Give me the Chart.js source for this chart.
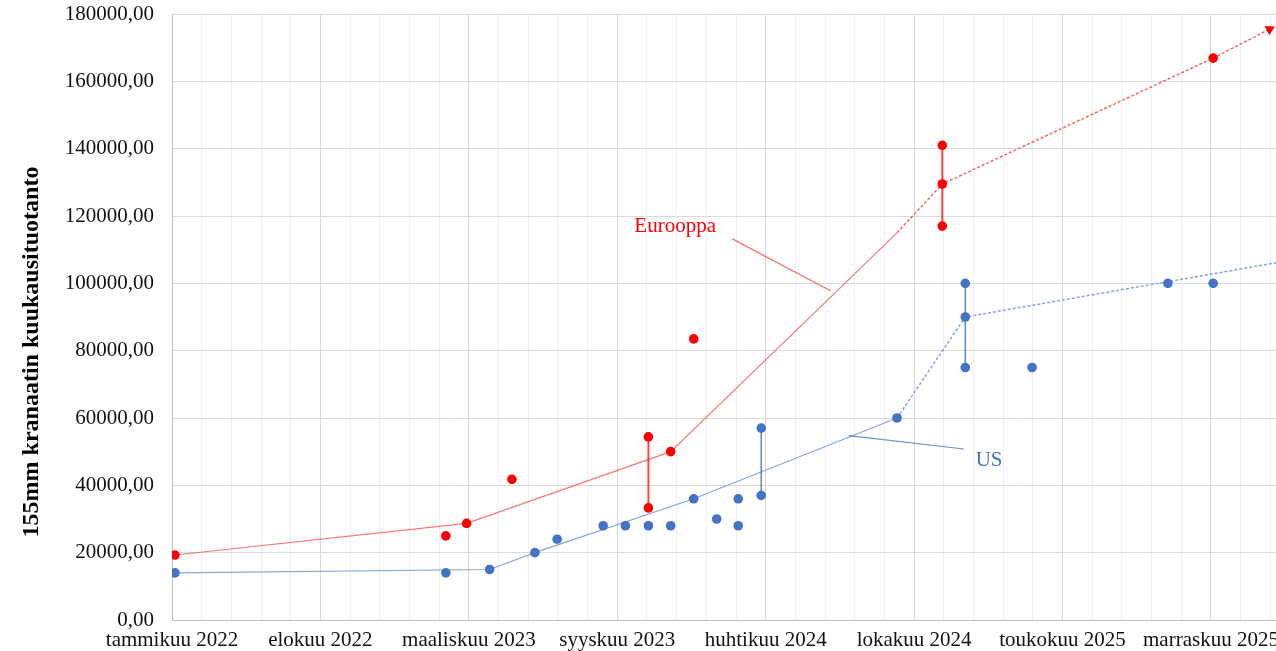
<!DOCTYPE html>
<html lang="fi">
<head>
<meta charset="utf-8">
<title>155mm kranaatin kuukausituotanto</title>
<script src="https://cdn.jsdelivr.net/npm/chart.js@4.4.1/dist/chart.umd.min.js"></script>
<style>
    html, body { margin: 0; padding: 0; background: #fff; overflow: hidden; }
    #wrap { width: 1306px; height: 651px; position: relative; }
</style>
</head>
<body>
<div id="wrap"><canvas id="chart"></canvas></div>
<script>
// x-akseli: päiviä alkupäivästä, pääjako 200 pv, apujako 40 pv
const axisStart = '2022-01-27';
const tickLabels = ['tammikuu 2022', 'elokuu 2022', 'maaliskuu 2023', 'syyskuu 2023',
    'huhtikuu 2024', 'lokakuu 2024', 'toukokuu 2025', 'marraskuu 2025'];
const yTitle = '155mm kranaatin kuukausituotanto';

// Eurooppa, yksittäiset arviot
const euDates = ['2022-01-31', '2023-01-31', '2023-02-28', '2023-04-30', '2023-10-31', '2023-10-31',
    '2023-11-30', '2023-12-31', '2024-11-30', '2024-11-30', '2024-11-30', '2025-11-30'];
const euValues = [19300, 25000, 28700, 41800, 54400, 33300,
    50000, 83500, 141000, 129500, 117000, 166900];
const euRangeDates = ['2023-10-31', '2024-11-30'];
const euRangeLow = [33300, 117000];
const euRangeHigh = [54400, 141000];
const euTrendDates = ['2022-01-31', '2023-02-28', '2023-11-30', '2024-09-30'];
const euTrendValues = [19300, 28700, 50000, 115000];
const euForecastDates = ['2024-09-30', '2024-11-30', '2025-11-30', '2026-02-14'];
const euForecastValues = [115000, 129500, 166900, 175500];

// US
const usDates = ['2022-01-31', '2023-01-31', '2023-03-31', '2023-05-31', '2023-06-30', '2023-08-31',
    '2023-09-30', '2023-10-31', '2023-11-30', '2023-12-31', '2024-01-31', '2024-02-29', '2024-02-29',
    '2024-03-31', '2024-03-31', '2024-09-30', '2024-12-31', '2024-12-31', '2024-12-31', '2025-03-31',
    '2025-09-30', '2025-11-30'];
const usValues = [14000, 14000, 15000, 20000, 24000, 28000,
    28000, 28000, 28000, 36000, 30000, 36000, 28000,
    57000, 37000, 60000, 100000, 90000, 75000, 75000,
    100000, 100000];
const usRangeDates = ['2024-03-31', '2024-12-31'];
const usRangeLow = [37000, 75000];
const usRangeHigh = [57000, 100000];
const usTrendDates = ['2022-01-31', '2023-03-31', '2023-05-31', '2023-12-31', '2024-09-30'];
const usTrendValues = [14000, 15000, 20000, 36000, 60000];
const usForecastDates = ['2024-09-30', '2024-12-31', '2026-03-31'];
const usForecastValues = [60000, 90000, 107500];

const RED = '#FF0000';
const BLUE = '#4472C4';
const FONT = '"Liberation Serif", "Times New Roman", serif';

// selitetekstit ja niiden viivat (päivämäärä, arvo)
const labels = [
    {text: 'Eurooppa', color: RED, lineColor: 'rgba(255,60,60,0.75)',
        at: ['2023-10-12', 115300], from: ['2024-02-21', 113200], to: ['2024-07-03', 97700]},
    {text: 'US', color: BLUE, lineColor: 'rgba(68,114,196,0.8)',
        at: ['2025-01-14', 45700], from: ['2024-07-27', 54750], to: ['2024-12-29', 50800]}
];

function toDay(s) {
    return (Date.parse(s) - Date.parse(axisStart)) / 864e5;
}

function points(dates, values) {
    return dates.map((d, i) => ({x: toDay(d), y: values[i]}));
}

function lineSet(dates, values, color, width, dash) {
    return {
        showLine: true,
        data: points(dates, values),
        borderColor: color,
        borderWidth: width,
        borderDash: dash || [],
        pointRadius: 0,
        pointHoverRadius: 0
    };
}

function rangeSets(dates, low, high, color, width) {
    return dates.map((d, i) => lineSet([d, d], [low[i], high[i]], color, width));
}

const arrowSet = lineSet(euForecastDates, euForecastValues, 'rgba(255,60,60,0.8)', 1.5, [3, 2]);
arrowSet.pointStyle = 'triangle';
arrowSet.pointBackgroundColor = RED;
arrowSet.pointBorderColor = RED;
arrowSet.pointBorderWidth = 0;
arrowSet.pointRadius = (c) => c.dataIndex === euForecastValues.length - 1 ? 6 : 0;
arrowSet.pointRotation = (c) => {
    const n = euForecastValues.length;
    const sx = c.chart.scales.x, sy = c.chart.scales.y;
    const dx = sx.getPixelForValue(toDay(euForecastDates[n - 1])) - sx.getPixelForValue(toDay(euForecastDates[n - 2]));
    const dy = sy.getPixelForValue(euForecastValues[n - 1]) - sy.getPixelForValue(euForecastValues[n - 2]);
    return Math.atan2(dy, dx) * 180 / Math.PI + 90;
};

const textPlugin = {
    id: 'texts',
    afterDatasetsDraw(chart) {
        const {ctx, chartArea} = chart;
        const sx = chart.scales.x, sy = chart.scales.y;
        ctx.save();
        labels.forEach(a => {
            ctx.strokeStyle = a.lineColor;
            ctx.lineWidth = 1.2;
            ctx.beginPath();
            ctx.moveTo(sx.getPixelForValue(toDay(a.from[0])), sy.getPixelForValue(a.from[1]));
            ctx.lineTo(sx.getPixelForValue(toDay(a.to[0])), sy.getPixelForValue(a.to[1]));
            ctx.stroke();
            ctx.fillStyle = a.color;
            ctx.font = '21px ' + FONT;
            ctx.textAlign = 'left';
            ctx.textBaseline = 'alphabetic';
            ctx.fillText(a.text, sx.getPixelForValue(toDay(a.at[0])), sy.getPixelForValue(a.at[1]));
        });
        // pystyakselin otsikko
        ctx.translate(38, (chartArea.top + chartArea.bottom) / 2 + 35);
        ctx.rotate(-Math.PI / 2);
        ctx.fillStyle = '#000';
        ctx.font = 'bold 24px ' + FONT;
        ctx.textAlign = 'center';
        ctx.textBaseline = 'alphabetic';
        ctx.fillText(yTitle, 0, 0);
        ctx.restore();
    }
};

function loadChart() {
    const ctx = document.getElementById('chart');
    const euPoints = {data: points(euDates, euValues), backgroundColor: RED, borderWidth: 0, pointRadius: 4.8};
    const usPoints = {data: points(usDates, usValues), backgroundColor: BLUE, borderWidth: 0, pointRadius: 4.8};
    new Chart(ctx, {
        type: 'scatter',
        data: {
            datasets: [
                euPoints,
                usPoints,
                ...rangeSets(euRangeDates, euRangeLow, euRangeHigh, 'rgba(240,40,40,0.85)', 2),
                ...rangeSets(usRangeDates, usRangeLow, usRangeHigh, 'rgba(68,114,196,0.85)', 1.5),
                arrowSet,
                lineSet(euTrendDates, euTrendValues, 'rgba(255,60,60,0.7)', 1.2),
                lineSet(usTrendDates, usTrendValues, 'rgba(120,155,215,0.9)', 1.2),
                lineSet(usForecastDates, usForecastValues, 'rgba(120,155,215,0.9)', 1.5, [3, 2])
            ]
        },
        options: {
            responsive: true,
            maintainAspectRatio: false,
            animation: false,
            layout: {padding: {top: 14, left: 0, right: 0, bottom: 0}},
            plugins: {
                legend: {display: false},
                tooltip: {enabled: false}
            },
            scales: {
                x: {
                    type: 'linear',
                    min: 0,
                    max: 1520,
                    ticks: {
                        stepSize: 40,
                        autoSkip: false,
                        maxRotation: 0,
                        padding: 8,
                        color: '#111',
                        font: {family: FONT, size: 21},
                        callback: (v) => v % 200 === 0 ? tickLabels[v / 200] : ''
                    },
                    grid: {
                        drawTicks: false,
                        color: (c) => c.tick && c.tick.value % 200 === 0 ? '#D9D9D9' : '#F0F0F0'
                    },
                    border: {color: '#BFBFBF'},
                    afterFit: (s) => {
                        s.height = 31;
                        s.paddingLeft = 0;
                        s.paddingRight = 0;
                    }
                },
                y: {
                    min: 0,
                    max: 180000,
                    ticks: {
                        stepSize: 20000,
                        padding: 18,
                        color: '#111',
                        font: {family: FONT, size: 21},
                        callback: (v) => v.toFixed(2).replace('.', ',')
                    },
                    grid: {drawTicks: false, color: '#D9D9D9'},
                    border: {color: '#BFBFBF'},
                    afterFit: (s) => {
                        s.width = 172;
                        s.paddingTop = 0;
                        s.paddingBottom = 0;
                    }
                }
            }
        },
        plugins: [textPlugin]
    });
}

loadChart();
</script>
</body>
</html>
